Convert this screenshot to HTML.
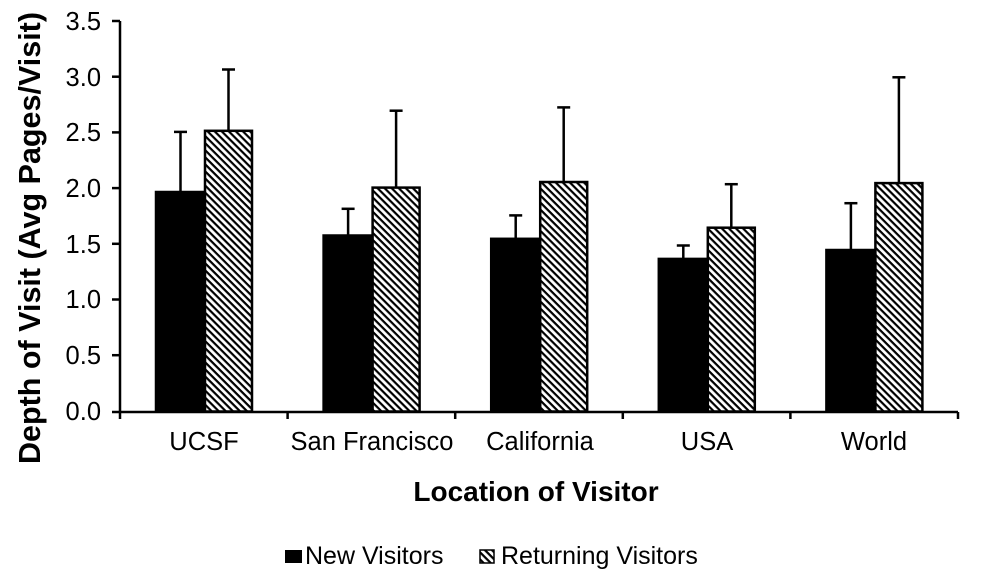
<!DOCTYPE html>
<html><head><meta charset="utf-8"><style>body{margin:0;background:#fff}svg{display:block}text{font-family:"Liberation Sans",Arial,sans-serif}</style></head>
<body>
<svg width="981" height="582" viewBox="0 0 981 582" xmlns="http://www.w3.org/2000/svg">
<defs>
<pattern id="h" patternUnits="userSpaceOnUse" width="5" height="5" patternTransform="rotate(45)">
<rect width="5" height="5" fill="#fff"/><rect x="0" y="0" width="5" height="2.2" fill="#000"/>
</pattern>
</defs>
<g id="bars" stroke="#000" stroke-width="2.5">
<line x1="180.5" y1="192" x2="180.5" y2="131.9"/><line x1="174" y1="131.9" x2="187" y2="131.9"/>
<rect x="156" y="192" width="49" height="219.5" fill="#000"/>
<line x1="228.5" y1="130.8" x2="228.5" y2="69.5"/><line x1="222" y1="69.5" x2="235" y2="69.5"/>
<rect x="205" y="130.8" width="47" height="280.7" fill="url(#h)"/>
<line x1="348.1" y1="235.5" x2="348.1" y2="208.8"/><line x1="341.6" y1="208.8" x2="354.6" y2="208.8"/>
<rect x="323.6" y="235.5" width="49" height="176" fill="#000"/>
<line x1="396.1" y1="187.6" x2="396.1" y2="110.7"/><line x1="389.6" y1="110.7" x2="402.6" y2="110.7"/>
<rect x="372.6" y="187.6" width="47" height="223.9" fill="url(#h)"/>
<line x1="515.7" y1="238.8" x2="515.7" y2="215.4"/><line x1="509.2" y1="215.4" x2="522.2" y2="215.4"/>
<rect x="491.2" y="238.8" width="49" height="172.7" fill="#000"/>
<line x1="563.7" y1="182" x2="563.7" y2="107.4"/><line x1="557.2" y1="107.4" x2="570.2" y2="107.4"/>
<rect x="540.2" y="182" width="47" height="229.5" fill="url(#h)"/>
<line x1="683.3" y1="258.9" x2="683.3" y2="245.5"/><line x1="676.8" y1="245.5" x2="689.8" y2="245.5"/>
<rect x="658.8" y="258.9" width="49" height="152.6" fill="#000"/>
<line x1="731.3" y1="227.7" x2="731.3" y2="184.2"/><line x1="724.8" y1="184.2" x2="737.8" y2="184.2"/>
<rect x="707.8" y="227.7" width="47" height="183.8" fill="url(#h)"/>
<line x1="850.9" y1="250" x2="850.9" y2="203.2"/><line x1="844.4" y1="203.2" x2="857.4" y2="203.2"/>
<rect x="826.4" y="250" width="49" height="161.5" fill="#000"/>
<line x1="898.9" y1="183.1" x2="898.9" y2="77.3"/><line x1="892.4" y1="77.3" x2="905.4" y2="77.3"/>
<rect x="875.4" y="183.1" width="47" height="228.4" fill="url(#h)"/>
</g>
<g stroke="#000" stroke-width="2.5">
<line x1="120" y1="21" x2="120" y2="412"/>
<line x1="112" y1="412" x2="958" y2="412"/>
<line x1="112" y1="21" x2="120" y2="21"/><line x1="112" y1="76.7" x2="120" y2="76.7"/>
<line x1="112" y1="132.4" x2="120" y2="132.4"/><line x1="112" y1="188.1" x2="120" y2="188.1"/>
<line x1="112" y1="243.8" x2="120" y2="243.8"/><line x1="112" y1="299.5" x2="120" y2="299.5"/>
<line x1="112" y1="355.2" x2="120" y2="355.2"/>
<line x1="120" y1="412" x2="120" y2="419"/><line x1="287.6" y1="412" x2="287.6" y2="419"/>
<line x1="455.2" y1="412" x2="455.2" y2="419"/><line x1="622.8" y1="412" x2="622.8" y2="419"/>
<line x1="790.4" y1="412" x2="790.4" y2="419"/><line x1="958" y1="412" x2="958" y2="419"/>
</g>
<g font-size="25.5" text-anchor="end" fill="#000">
<text x="101" y="30">3.5</text><text x="101" y="86">3.0</text><text x="101" y="141">2.5</text>
<text x="101" y="197">2.0</text><text x="101" y="253">1.5</text><text x="101" y="308">1.0</text>
<text x="101" y="364">0.5</text><text x="101" y="420">0.0</text>
</g>
<g font-size="25.5" text-anchor="middle" fill="#000">
<text x="204" y="450">UCSF</text><text x="372" y="450">San Francisco</text>
<text x="540" y="450">California</text><text x="707" y="450">USA</text><text x="874" y="450">World</text>
</g>
<text x="536" y="501" font-size="28" font-weight="bold" text-anchor="middle">Location of Visitor</text>
<text transform="translate(40,238) rotate(-90)" font-size="30.5" font-weight="bold" text-anchor="middle">Depth of Visit (Avg Pages/Visit)</text>
<rect x="285" y="550" width="17" height="13" fill="#000"/>
<text x="305" y="564" font-size="25">New Visitors</text>
<rect x="480" y="550" width="14" height="13" fill="url(#h)" stroke="#000" stroke-width="1.5"/>
<text x="501" y="564" font-size="25">Returning Visitors</text>
</svg>
</body></html>
